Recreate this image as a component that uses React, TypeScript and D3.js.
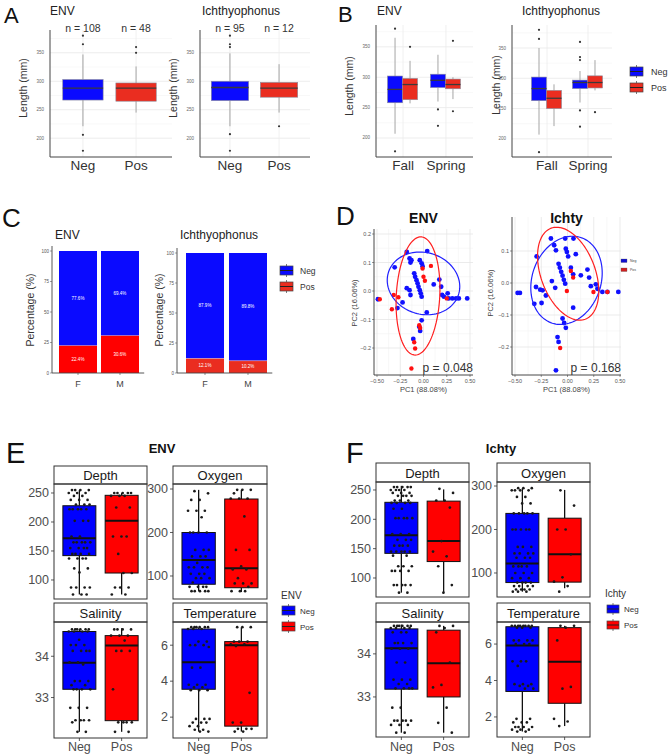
import React from 'react';
import * as d3 from 'd3';

const FONT = "'Liberation Sans', Arial, Helvetica, sans-serif";
const BLUE = '#0a0aff';
const RED_A = '#ea2d20';
const RED = '#ff0000';

// ---------------- Panel A data ----------------
const lenGroups = ['Neg', 'Pos'];
const lenTicks = [200, 250, 300, 350];
const aEnvN = ['n = 108', 'n = 48'];
const aEnvQ1 = [267, 265];
const aEnvMed = [288, 288];
const aEnvQ3 = [303, 297];
const aEnvLo = [221, 245];
const aEnvHi = [347, 326];
const aEnvOut = [[380, 365, 206, 178], [360, 350]];
const aIchN = ['n = 95', 'n = 12'];
const aIchQ1 = [266, 272];
const aIchMed = [289, 288];
const aIchQ3 = [300, 298];
const aIchLo = [221, 245];
const aIchHi = [349, 330];
const aIchOut = [[380, 365, 360, 207, 178], [221]];

// ---------------- Panel B data (Fall-Neg, Fall-Pos, Spring-Neg, Spring-Pos) ----------------
const seasons = ['Fall', 'Spring'];
const bEnvQ1 = [258, 263, 283, 281];
const bEnvMed = [280, 288, 295, 288];
const bEnvQ3 = [302, 298, 305, 297];
const bEnvLo = [207, 257, 260, 264];
const bEnvHi = [365, 327, 337, 300];
const bEnvOut = [[380, 178], [350], [247, 220], [360, 244]];
const bIchQ1 = [263, 250, 283, 284];
const bIchMed = [283, 267, 293, 293];
const bIchQ3 = [302, 280, 297, 304];
const bIchLo = [207, 221, 260, 280];
const bIchHi = [350, 290, 312, 330];
const bIchOut = [[380, 365, 178], [], [360, 335, 330, 247, 220], [244]];

// ---------------- Panel C data ----------------
const sexes = ['F', 'M'];
const pctTicks = [0, 25, 50, 75, 100];
const cEnvPos = [22.4, 30.6];
const cEnvNeg = [77.6, 69.4];
const cIchPos = [12.1, 10.2];
const cIchNeg = [87.9, 89.8];

// ---------------- Panel D data ----------------
const pcTicksX = [-0.5, -0.25, 0, 0.25, 0.5];
const dEnvNegX = [-0.49, -0.18, -0.15, -0.14, -0.31, -0.04, -0.02, -0.01, 0.04, -0.10, -0.09, -0.075, -0.064, -0.054, -0.04, -0.03, -0.02, -0.15, -0.14, -0.18, 0.11, 0.17, 0.19, 0.2, 0.22, 0.26, 0.27, 0.31, 0.35, 0.38, 0.47, -0.225, -0.28, 0.035, -0.046, -0.036, -0.11, -0.02, -0.13];
const dEnvNegY = [-0.029, 0.137, 0.114, 0.10, 0.083, 0.108, 0.097, 0.087, 0.14, 0.062, 0.05, 0.038, 0.027, 0.015, 0.003, -0.008, -0.02, 0.003, -0.014, 0.01, 0.023, 0.04, 0.015, -0.014, -0.02, -0.008, -0.026, -0.026, -0.026, -0.026, -0.026, -0.04, -0.06, -0.075, -0.125, -0.14, -0.168, -0.103, 0.108];
const dEnvPosX = [-0.47, -0.32, -0.27, -0.34, -0.01, 0.08, 0.0, 0.015, 0.25, -0.046, -0.036, -0.1, -0.09, -0.13];
const dEnvPosY = [-0.029, -0.014, -0.022, -0.064, 0.079, 0.088, 0.05, 0.036, -0.026, -0.12, -0.13, -0.18, -0.202, -0.272];
const dIchNegX = [-0.475, -0.453, -0.294, -0.3, -0.26, -0.237, -0.206, -0.316, -0.247, -0.158, -0.127, -0.11, -0.149, -0.117, -0.022, 0.057, -0.016, -0.006, 0.006, 0.079, -0.085, -0.073, -0.06, -0.047, -0.035, -0.022, 0.032, 0.054, 0.127, 0.19, 0.206, 0.222, 0.27, 0.285, 0.332, 0.38, 0.484, 0.054, -0.047, -0.032, -0.016, -0.095, -0.085, -0.11];
const dIchNegY = [-0.031, -0.031, 0.083, -0.0125, -0.021, -0.023, -0.039, -0.065, -0.0625, 0.139, 0.118, 0.102, 0.006, -0.015, 0.139, 0.139, 0.107, 0.097, 0.083, 0.09, 0.06, 0.048, 0.035, 0.023, 0.01, -0.002, 0.048, 0.027, 0.024, 0.042, 0.017, -0.01, -0.004, -0.018, -0.028, -0.028, -0.028, -0.077, -0.111, -0.125, -0.14, -0.169, -0.184, -0.273];
const dIchPosX = [0.032, 0.054, -0.006, 0.247, 0.38, -0.07];
const dIchPosY = [0.0375, 0.017, -0.025, -0.028, -0.028, -0.203];
// ellipses: centre, first and second conjugate half-axes (data units)
const dEnvNegEll = [[0, 0.0267], [0.375, -0.0407], [-0.107, -0.1023]];
const dEnvPosEll = [[-0.059, -0.0174], [0.0429, 0.207], [0.232, -0.0116]];
const dIchNegEll = [[-0.0095, 0.0083], [0.0316, 0.1375], [0.3386, 0.0104]];
const dIchPosEll = [[0.0063, 0.029], [-0.174, 0.1406], [0.234, 0.0365]];

// ---------------- Panels E / F data: box stats [q1, median, q3, lower, upper] ----------------
const eDepthStats = [[142, 172, 228, 75, 255], [112, 202, 246, 75, 250]];
const eOxyStats = [[81, 137, 200, 65, 298], [73, 118, 277, 63, 298]];
const eSalStats = [[33.2, 33.84, 34.6, 32.17, 34.65], [32.44, 34.26, 34.5, 32.17, 34.68]];
const eTempStats = [[3.55, 5.05, 6.9, 1.2, 6.95], [1.5, 6.0, 6.2, 1.2, 7.0]];
const eDepthNeg = [255, 255, 255, 255, 250, 250, 250, 245, 245, 238, 238, 238, 230, 230, 230, 222, 222, 222, 222, 222, 202, 202, 202, 175, 175, 165, 165, 165, 165, 165, 155, 155, 155, 155, 145, 145, 145, 145, 137, 137, 137, 137, 120, 120, 113, 87, 87, 87, 87, 75, 75, 75];
const eDepthPos = [250, 250, 250, 250, 250, 245, 245, 245, 225, 225, 175, 175, 175, 145, 112, 112, 87, 87, 87, 75, 75];
const eOxyNeg = [295, 290, 275, 275, 250, 250, 250, 235, 200, 200, 200, 200, 160, 160, 160, 145, 145, 145, 130, 120, 120, 120, 120, 105, 105, 105, 95, 95, 95, 85, 75, 75, 75, 75, 65, 65, 65, 65, 65];
const eOxyPos = [298, 298, 298, 290, 278, 278, 278, 237, 160, 160, 122, 115, 115, 95, 83, 83, 83, 75, 65, 65, 65];
const eSalNeg = [34.65, 34.65, 34.65, 34.65, 34.65, 34.65, 34.6, 34.6, 34.6, 34.6, 34.4, 34.27, 34.27, 34.27, 34.13, 34.13, 34.13, 34.13, 33.85, 33.85, 33.8, 33.4, 33.4, 33.4, 33.3, 33.3, 33.2, 33.2, 33.2, 33.2, 32.75, 32.75, 32.75, 32.45, 32.45, 32.45, 32.45, 32.4, 32.17, 32.17];
const eSalPos = [34.65, 34.65, 34.65, 34.65, 34.5, 34.5, 34.5, 34.38, 34.13, 34.13, 34.13, 33.2, 32.4, 32.4, 32.4, 32.4, 32.17, 32.17];
const eTempNeg = [7.0, 7.0, 7.0, 7.0, 7.0, 7.0, 6.9, 6.9, 6.9, 6.2, 6.2, 6.0, 6.0, 6.0, 5.9, 4.75, 4.75, 3.8, 3.8, 3.8, 3.65, 3.65, 3.5, 3.5, 3.5, 1.9, 1.9, 1.9, 1.7, 1.7, 1.7, 1.5, 1.5, 1.3, 1.3, 1.2, 1.2];
const eTempPos = [7.0, 7.0, 7.0, 6.2, 6.2, 6.2, 6.05, 6.05, 5.95, 3.35, 1.7, 1.7, 1.35, 1.35, 1.35, 1.2, 1.2];

const fDepthStats = [[142, 173, 229, 75, 257], [128, 163, 231, 75, 251]];
const fOxyStats = [[78, 122, 237, 57, 295], [79, 143, 226, 65, 291]];
const fSalStats = [[33.18, 34.13, 34.58, 32.17, 34.68], [33.0, 33.78, 34.55, 32.17, 34.65]];
const fTempStats = [[3.4, 5.92, 6.95, 1.2, 7.0], [2.75, 5.03, 6.9, 1.5, 7.0]];
const fDepthNeg = [255, 255, 255, 255, 255, 250, 250, 250, 250, 245, 245, 245, 240, 240, 240, 240, 232, 232, 232, 228, 228, 228, 228, 218, 218, 202, 202, 202, 202, 202, 175, 175, 175, 165, 165, 165, 155, 155, 155, 155, 145, 145, 145, 145, 145, 138, 138, 120, 120, 120, 112, 112, 112, 112, 88, 88, 88, 88, 88, 75, 75];
const fDepthPos = [252, 245, 232, 232, 220, 163, 145, 137, 120, 88, 75];
const fOxyNeg = [295, 295, 295, 290, 290, 290, 290, 275, 275, 260, 260, 237, 237, 237, 237, 237, 200, 200, 200, 200, 200, 160, 160, 160, 145, 145, 145, 145, 135, 135, 135, 115, 115, 115, 115, 100, 100, 100, 88, 88, 88, 78, 78, 78, 78, 70, 70, 70, 70, 62, 62, 62, 62, 57, 57, 57];
const fOxyPos = [290, 255, 200, 200, 143, 90, 80, 70, 57];
const fSalNeg = [34.65, 34.65, 34.65, 34.65, 34.65, 34.65, 34.6, 34.6, 34.6, 34.6, 34.5, 34.5, 34.5, 34.25, 34.25, 34.25, 34.25, 34.12, 34.12, 34.12, 33.8, 33.8, 33.4, 33.4, 33.4, 33.3, 33.3, 33.2, 33.2, 33.2, 33.2, 32.75, 32.75, 32.45, 32.45, 32.45, 32.45, 32.45, 32.35, 32.35, 32.35, 32.17, 32.17];
const fSalPos = [34.65, 34.65, 34.6, 34.5, 33.8, 33.28, 33.22, 32.75, 32.4, 32.17];
const fTempNeg = [7.0, 7.0, 7.0, 7.0, 7.0, 7.0, 7.0, 7.0, 6.9, 6.9, 6.9, 6.2, 6.2, 6.2, 6.2, 6.0, 6.0, 6.0, 5.05, 5.05, 5.05, 4.8, 3.8, 3.8, 3.8, 3.7, 3.7, 3.55, 3.55, 1.9, 1.9, 1.7, 1.7, 1.7, 1.45, 1.45, 1.45, 1.45, 1.3, 1.3, 1.3, 1.2, 1.2];
const fTempPos = [7.0, 7.0, 6.9, 6.2, 3.65, 3.55, 1.9, 1.75, 1.5];

// ---------------------------------------------------------------
function LenBox({ cx, w, y, q1, med, q3, lo, hi, out, fill }: any) {
  return (
    <g>
      <line x1={cx} x2={cx} y1={y(hi)} y2={y(q3)} stroke="#a5a5a5" strokeWidth={1} />
      <line x1={cx} x2={cx} y1={y(q1)} y2={y(lo)} stroke="#a5a5a5" strokeWidth={1} />
      <rect x={cx - w / 2} y={y(q3)} width={w} height={y(q1) - y(q3)} fill={fill} stroke="#8a8a9a" strokeWidth={0.6} />
      <line x1={cx - w / 2} x2={cx + w / 2} y1={y(med)} y2={y(med)} stroke="#3a3a3a" strokeWidth={1.3} />
      {out.map((v: number, i: number) => (
        <circle key={i} cx={cx} cy={y(v)} r={1.1} fill="#333" />
      ))}
    </g>
  );
}

function LenFrame({ x0, x1, axisEnd, y, cats, xs, title, titleX, ylabX, ylabY }: any) {
  const minor = [225, 275, 325, 375];
  const [b, t] = y.range();
  return (
    <g>
      {minor.map((v) => (
        <line key={'m' + v} x1={x0} x2={axisEnd} y1={y(v)} y2={y(v)} stroke="#f3f3f3" strokeWidth={0.6} />
      ))}
      {lenTicks.map((v) => (
        <line key={'g' + v} x1={x0} x2={axisEnd} y1={y(v)} y2={y(v)} stroke="#e8e8e8" strokeWidth={0.8} />
      ))}
      {cats.map((c: string) => (
        <line key={'v' + c} x1={xs(c)} x2={xs(c)} y1={t} y2={b} stroke="#ececec" strokeWidth={0.8} />
      ))}
      <line x1={x0} x2={x0} y1={t} y2={b} stroke="#444" strokeWidth={1} />
      <line x1={x0} x2={axisEnd} y1={b} y2={b} stroke="#444" strokeWidth={1} />
      {lenTicks.map((v) => (
        <text key={'t' + v} x={x0 - 6} y={y(v) + 1.5} fontSize={4.5} fill="#666" textAnchor="end">{v}</text>
      ))}
      {cats.map((c: string) => (
        <text key={'c' + c} x={xs(c)} y={170} fontSize={13.5} fill="#333" textAnchor="middle">{c}</text>
      ))}
      <text x={titleX} y={15} fontSize={12} fill="#222">{title}</text>
      <text transform={`translate(${ylabX},${ylabY}) rotate(-90)`} fontSize={10.5} fill="#333" textAnchor="middle">Length (mm)</text>
    </g>
  );
}

function PanelA() {
  const y = d3.scaleLinear([167, 390], [157, 30]);
  const x1 = d3.scalePoint(lenGroups, [50, 169]).padding(0.62);
  const x2 = d3.scalePoint(lenGroups, [200, 309]).padding(0.61);
  const fills = [BLUE, RED_A];
  const plot = (xs: any, q1: number[], med: number[], q3: number[], lo: number[], hi: number[], out: number[][], n: string[]) => (
    <g>
      {lenGroups.map((g, i) => (
        <g key={g}>
          <LenBox cx={xs(g)} w={xs.step() * 0.76} y={y} q1={q1[i]} med={med[i]} q3={q3[i]} lo={lo[i]} hi={hi[i]} out={out[i]} fill={fills[i]} />
          <text x={xs(g)} y={32} fontSize={10.5} fill="#333" textAnchor="middle">{n[i]}</text>
        </g>
      ))}
    </g>
  );
  return (
    <g>
      <text x={4} y={23} fontSize={22} fill="#111">A</text>
      <LenFrame x0={50} x1={169} axisEnd={172} y={y} cats={lenGroups} xs={x1} title="ENV" titleX={50} ylabX={27} ylabY={88} />
      {plot(x1, aEnvQ1, aEnvMed, aEnvQ3, aEnvLo, aEnvHi, aEnvOut, aEnvN)}
      <LenFrame x0={200} x1={309} axisEnd={310} y={y} cats={lenGroups} xs={x2} title="Ichthyophonus" titleX={202} ylabX={177} ylabY={88} />
      {plot(x2, aIchQ1, aIchMed, aIchQ3, aIchLo, aIchHi, aIchOut, aIchN)}
    </g>
  );
}

function KeyGlyph({ x, y, w, h, fill }: any) {
  return (
    <g>
      <line x1={x + w / 2} x2={x + w / 2} y1={y - 2} y2={y + h + 2} stroke="#444" strokeWidth={0.7} />
      <rect x={x} y={y} width={w} height={h} fill={fill} stroke="#444" strokeWidth={0.7} />
      <line x1={x} x2={x + w} y1={y + h / 2} y2={y + h / 2} stroke="#222" strokeWidth={1} />
    </g>
  );
}

function PanelB() {
  const y1 = d3.scaleLinear([168.7, 386], [157, 25]);
  const y2 = d3.scaleLinear([170, 388], [157, 25]);
  const xs1 = d3.scalePoint(seasons, [376, 473]).padding(0.63);
  const xs2 = d3.scalePoint(seasons, [512, 623]).padding(0.854);
  const fills = [BLUE, RED_A];
  const plot = (xs: any, y: any, q1: number[], med: number[], q3: number[], lo: number[], hi: number[], out: number[][]) => (
    <g>
      {seasons.map((s, si) =>
        lenGroups.map((g, gi) => {
          const k = si * 2 + gi;
          const cx = (xs(s) as number) - 0.5 + (gi === 0 ? -7.5 : 7.5);
          return (
            <LenBox key={s + g} cx={cx} w={15} y={y} q1={q1[k]} med={med[k]} q3={q3[k]} lo={lo[k]} hi={hi[k]} out={out[k]} fill={fills[gi]} />
          );
        })
      )}
    </g>
  );
  return (
    <g>
      <text x={338} y={22} fontSize={22} fill="#111">B</text>
      <LenFrame x0={376} x1={473} axisEnd={473} y={y1} cats={seasons} xs={xs1} title="ENV" titleX={377} ylabX={353} ylabY={86} />
      {plot(xs1, y1, bEnvQ1, bEnvMed, bEnvQ3, bEnvLo, bEnvHi, bEnvOut)}
      <LenFrame x0={512} x1={623} axisEnd={612} y={y2} cats={seasons} xs={xs2} title="Ichthyophonus" titleX={522} ylabX={500} ylabY={85} />
      {plot(xs2, y2, bIchQ1, bIchMed, bIchQ3, bIchLo, bIchHi, bIchOut)}
      {lenGroups.map((g, i) => (
        <g key={g}>
          <KeyGlyph x={630} y={67 + i * 16} w={13} h={9} fill={fills[i]} />
          <text x={651} y={75 + i * 16} fontSize={9} fill="#333">{g}</text>
        </g>
      ))}
    </g>
  );
}

function PctPlot({ axisX, range, pi, y, pos, neg, title, ylabX, posFill }: any) {
  const xb = d3.scaleBand(sexes, range).paddingInner(pi).paddingOuter(0.1);
  const [b, t] = y.range();
  return (
    <g>
      {sexes.map((s, i) => (
        <g key={s}>
          <rect x={xb(s)} width={xb.bandwidth()} y={y(100)} height={y(pos[i]) - y(100)} fill={BLUE} />
          <rect x={xb(s)} width={xb.bandwidth()} y={y(pos[i])} height={y(0) - y(pos[i])} fill={posFill} />
          <line x1={xb(s)} x2={(xb(s) as number) + xb.bandwidth()} y1={y(pos[i])} y2={y(pos[i])} stroke="#ffffff" strokeWidth={0.5} opacity={0.6} />
          <text x={(xb(s) as number) + xb.bandwidth() / 2} y={y(pos[i] + neg[i] / 2) + 1.5} fontSize={4.5} fill="#fff" textAnchor="middle">{neg[i].toFixed(1)}%</text>
          <text x={(xb(s) as number) + xb.bandwidth() / 2} y={y(pos[i] / 2) + 1.5} fontSize={4.5} fill="#fff" textAnchor="middle">{pos[i].toFixed(1)}%</text>
          <text x={(xb(s) as number) + xb.bandwidth() / 2} y={387} fontSize={9} fill="#444" textAnchor="middle">{s}</text>
          <line x1={(xb(s) as number) + xb.bandwidth() / 2} x2={(xb(s) as number) + xb.bandwidth() / 2} y1={b} y2={b + 2} stroke="#444" strokeWidth={0.6} />
        </g>
      ))}
      <line x1={axisX} x2={axisX} y1={t - 5} y2={b} stroke="#444" strokeWidth={0.9} />
      <line x1={axisX} x2={range[1] + 1} y1={b} y2={b} stroke="#444" strokeWidth={0.9} />
      {pctTicks.map((v) => (
        <g key={v}>
          <line x1={axisX - 2} x2={axisX} y1={y(v)} y2={y(v)} stroke="#444" strokeWidth={0.5} />
          <text x={axisX - 3} y={y(v) + 1.5} fontSize={4.5} fill="#555" textAnchor="end">{v}</text>
        </g>
      ))}
      <text x={axisX + 3} y={239} fontSize={12} fill="#222">{title}</text>
      <text transform={`translate(${ylabX},310) rotate(-90)`} fontSize={10.5} fill="#333" textAnchor="middle">Percentage (%)</text>
    </g>
  );
}

function PanelC() {
  return (
    <g>
      <text x={2} y={227} fontSize={26} fill="#111">C</text>
      <PctPlot axisX={52} range={[54.8, 143.2]} pi={0.095} y={d3.scaleLinear([0, 100], [373, 251])} pos={cEnvPos} neg={cEnvNeg} title="ENV" ylabX={34} posFill={RED} />
      <PctPlot axisX={177} range={[181.7, 271.3]} pi={0.116} y={d3.scaleLinear([0, 100], [373, 253])} pos={cIchPos} neg={cIchNeg} title="Ichthyophonus" ylabX={163} posFill={RED_A} />
      {lenGroups.map((g, i) => (
        <g key={g}>
          <KeyGlyph x={280} y={266 + i * 16} w={13} h={9} fill={i === 0 ? BLUE : RED_A} />
          <text x={300} y={274 + i * 16} fontSize={8.5} fill="#333">{g}</text>
        </g>
      ))}
    </g>
  );
}

function ellipsePath(e: number[][], xs: any, ys: any) {
  const ts = d3.range(0, 2 * Math.PI, Math.PI / 60);
  const pts = ts.map((t) => [
    xs(e[0][0] + e[1][0] * Math.cos(t) + e[2][0] * Math.sin(t)),
    ys(e[0][1] + e[1][1] * Math.cos(t) + e[2][1] * Math.sin(t)),
  ]);
  return d3.line().curve(d3.curveLinearClosed)(pts as any) as string;
}

function Scatter({ px0, px1, py0, py1, xs, ys, yTicks, negX, negY, posX, posY, negEll, posEll, title, p, ylabX, ylabY }: any) {
  const xMinor = [-0.375, -0.125, 0.125, 0.375];
  const yMinor = yTicks.slice(0, -1).map((v: number, i: number) => (v + yTicks[i + 1]) / 2);
  const fmt = d3.format('.2f');
  const cx = (px0 + px1) / 2;
  return (
    <g>
      {xMinor.map((v) => <line key={'xm' + v} x1={xs(v)} x2={xs(v)} y1={py0} y2={py1} stroke="#f4f4f4" strokeWidth={0.6} />)}
      {yMinor.map((v: number) => <line key={'ym' + v} x1={px0} x2={px1} y1={ys(v)} y2={ys(v)} stroke="#f4f4f4" strokeWidth={0.6} />)}
      {pcTicksX.map((v) => <line key={'xg' + v} x1={xs(v)} x2={xs(v)} y1={py0} y2={py1} stroke="#e6e6e6" strokeWidth={0.8} />)}
      {yTicks.map((v: number) => <line key={'yg' + v} x1={px0} x2={px1} y1={ys(v)} y2={ys(v)} stroke="#e6e6e6" strokeWidth={0.8} />)}
      <line x1={px0} x2={px0} y1={py0} y2={py1} stroke="#333" strokeWidth={0.9} />
      <line x1={px0} x2={px1} y1={py1} y2={py1} stroke="#333" strokeWidth={0.9} />
      {pcTicksX.map((v) => (
        <g key={'xt' + v}>
          <line x1={xs(v)} x2={xs(v)} y1={py1} y2={py1 + 2} stroke="#333" strokeWidth={0.5} />
          <text x={xs(v)} y={py1 + 8} fontSize={5.5} fill="#555" textAnchor="middle">{fmt(v)}</text>
        </g>
      ))}
      {yTicks.map((v: number) => (
        <g key={'yt' + v}>
          <line x1={px0 - 2} x2={px0} y1={ys(v)} y2={ys(v)} stroke="#333" strokeWidth={0.5} />
          <text x={px0 - 3} y={ys(v) + 2} fontSize={5.5} fill="#555" textAnchor="end">{d3.format('.1f')(v)}</text>
        </g>
      ))}
      {negX.map((v: number, i: number) => <circle key={'n' + i} cx={xs(v)} cy={ys(negY[i])} r={2.4} fill="#1010ff" />)}
      {posX.map((v: number, i: number) => <circle key={'p' + i} cx={xs(v)} cy={ys(posY[i])} r={2.2} fill="#ff1010" />)}
      <path d={ellipsePath(negEll, xs, ys)} fill="none" stroke="#2020ff" strokeWidth={1.2} />
      <path d={ellipsePath(posEll, xs, ys)} fill="none" stroke="#ff2020" strokeWidth={1.2} />
      <text x={cx} y={223} fontSize={14} fontWeight="bold" fill="#111" textAnchor="middle">{title}</text>
      <text x={px1} y={372} fontSize={12} fill="#333" textAnchor="end">{p}</text>
      <text x={cx} y={392} fontSize={7.5} fill="#444" textAnchor="middle">PC1 (88.08%)</text>
      <text transform={`translate(${ylabX},${ylabY}) rotate(-90)`} fontSize={7.5} fill="#444" textAnchor="middle">PC2 (16.06%)</text>
    </g>
  );
}

function PanelD() {
  const xs1 = d3.scaleLinear([-0.5, 0.5], [377, 470]);
  const ys1 = d3.scaleLinear([-0.2, 0.2], [348, 234]);
  const xs2 = d3.scaleLinear([-0.5, 0.5], [515, 620]);
  const ys2 = d3.scaleLinear([-0.2, 0.1], [347, 251]);
  return (
    <g>
      <text x={336} y={225} fontSize={26} fill="#111">D</text>
      <Scatter px0={374} px1={473} py0={229} py1={375} xs={xs1} ys={ys1} yTicks={[-0.2, -0.1, 0, 0.1, 0.2]}
        negX={dEnvNegX} negY={dEnvNegY} posX={dEnvPosX} posY={dEnvPosY} negEll={dEnvNegEll} posEll={dEnvPosEll}
        title="ENV" p="p = 0.048" ylabX={357} ylabY={303} />
      <Scatter px0={512} px1={621} py0={217} py1={375} xs={xs2} ys={ys2} yTicks={[-0.2, -0.1, 0, 0.1]}
        negX={dIchNegX} negY={dIchNegY} posX={dIchPosX} posY={dIchPosY} negEll={dIchNegEll} posEll={dIchPosEll}
        title="Ichty" p="p = 0.168" ylabX={493} ylabY={293} />
      {lenGroups.map((g, i) => (
        <g key={g}>
          <rect x={621} y={259 + i * 9} width={6} height={3.5} fill={i === 0 ? '#1010d0' : '#d02020'} stroke="#555" strokeWidth={0.3} />
          <text x={630} y={262 + i * 9} fontSize={3.5} fill="#444">{g}</text>
        </g>
      ))}
    </g>
  );
}

function jitter(i: number) {
  return ((i * 0.6180339887 + 0.31) % 1) - 0.5;
}

function Facet({ x0, y0, w, h, stripY, stripH, name, domain, ticks, stats, neg, pos, showX }: any) {
  const y = d3.scaleLinear(domain, [y0 + h, y0]);
  const xs = d3.scalePoint(lenGroups, [x0, x0 + w]).padding(0.6);
  const bw = xs.step() * 0.78;
  const fills = ['#0000ff', '#ff0000'];
  const pts = [neg, pos];
  return (
    <g>
      <rect x={x0} y={stripY} width={w} height={stripH} fill="#fff" stroke="#333" strokeWidth={1} />
      <text x={x0 + w / 2} y={stripY + stripH - 4.5} fontSize={13} fill="#1a1a1a" textAnchor="middle">{name}</text>
      {lenGroups.map((g, gi) => {
        const cx = xs(g) as number;
        const [q1, med, q3, lo, hi] = stats[gi];
        return (
          <g key={g}>
            <line x1={cx} x2={cx} y1={y(hi)} y2={y(q3)} stroke="#111" strokeWidth={1.3} />
            <line x1={cx} x2={cx} y1={y(q1)} y2={y(lo)} stroke="#111" strokeWidth={1.3} />
            <rect x={cx - bw / 2} y={y(q3)} width={bw} height={y(q1) - y(q3)} fill={fills[gi]} stroke="#111" strokeWidth={1} />
            <line x1={cx - bw / 2} x2={cx + bw / 2} y1={y(med)} y2={y(med)} stroke="#111" strokeWidth={2} />
            {pts[gi].map((v: number, i: number) => (
              <circle key={i} cx={cx + jitter(i) * 22} cy={y(v)} r={1.35} fill="#1a1a1a" />
            ))}
            {showX && (
              <g>
                <line x1={cx} x2={cx} y1={y0 + h} y2={y0 + h + 3} stroke="#333" strokeWidth={0.8} />
                <text x={cx} y={751} fontSize={12.5} fill="#4d4d4d" textAnchor="middle">{g}</text>
              </g>
            )}
          </g>
        );
      })}
      <rect x={x0} y={y0} width={w} height={h} fill="none" stroke="#333" strokeWidth={1} />
      {ticks.map((v: number) => (
        <g key={v}>
          <line x1={x0 - 3} x2={x0} y1={y(v)} y2={y(v)} stroke="#333" strokeWidth={0.8} />
          <text x={x0 - 5} y={y(v) + 4.3} fontSize={12.5} fill="#4d4d4d" textAnchor="end">{v}</text>
        </g>
      ))}
    </g>
  );
}

function PanelE() {
  return (
    <g>
      <text x={6} y={463} fontSize={29} fill="#111">E</text>
      <text x={162} y={453} fontSize={13} fontWeight="bold" fill="#111" textAnchor="middle">ENV</text>
      <Facet x0={54} y0={484} w={93} h={115} stripY={466} stripH={18} name="Depth" domain={[67.2, 265.5]} ticks={[100, 150, 200, 250]} stats={eDepthStats} neg={eDepthNeg} pos={eDepthPos} showX={false} />
      <Facet x0={173} y0={484} w={94} h={115} stripY={466} stripH={18} name="Oxygen" domain={[47.1, 311.5]} ticks={[100, 200, 300]} stats={eOxyStats} neg={eOxyNeg} pos={eOxyPos} showX={false} />
      <Facet x0={54} y0={622} w={93} h={116} stripY={603} stripH={19} name="Salinity" domain={[32.02, 34.83]} ticks={[33, 34]} stats={eSalStats} neg={eSalNeg} pos={eSalPos} showX={true} />
      <Facet x0={173} y0={622} w={94} h={116} stripY={603} stripH={19} name="Temperature" domain={[0.84, 7.29]} ticks={[2, 4, 6]} stats={eTempStats} neg={eTempNeg} pos={eTempPos} showX={true} />
      <text x={281} y={599} fontSize={10} fill="#333">ENV</text>
      {lenGroups.map((g, i) => (
        <g key={g}>
          <KeyGlyph x={282} y={606 + i * 16} w={13} h={9} fill={i === 0 ? '#0000ff' : '#ff0000'} />
          <text x={300} y={614 + i * 16} fontSize={8} fill="#333">{g}</text>
        </g>
      ))}
    </g>
  );
}

function PanelF() {
  return (
    <g>
      <text x={346} y={463} fontSize={29} fill="#111">F</text>
      <text x={501} y={453} fontSize={13} fontWeight="bold" fill="#111" textAnchor="middle">Ichty</text>
      <Facet x0={376} y0={482} w={93} h={115} stripY={463} stripH={19} name="Depth" domain={[67.6, 263.6]} ticks={[100, 150, 200, 250]} stats={fDepthStats} neg={fDepthNeg} pos={fDepthPos} showX={false} />
      <Facet x0={497} y0={482} w={93} h={115} stripY={463} stripH={19} name="Oxygen" domain={[44.8, 309.2]} ticks={[100, 200, 300]} stats={fOxyStats} neg={fOxyNeg} pos={fOxyPos} showX={false} />
      <Facet x0={376} y0={622} w={93} h={115} stripY={603} stripH={19} name="Salinity" domain={[32.07, 34.74]} ticks={[33, 34]} stats={fSalStats} neg={fSalNeg} pos={fSalPos} showX={true} />
      <Facet x0={497} y0={622} w={93} h={115} stripY={603} stripH={19} name="Temperature" domain={[0.9, 7.21]} ticks={[2, 4, 6]} stats={fTempStats} neg={fTempNeg} pos={fTempPos} showX={true} />
      <text x={605} y={597} fontSize={10} fill="#333">Ichty</text>
      {lenGroups.map((g, i) => (
        <g key={g}>
          <KeyGlyph x={607} y={605 + i * 16} w={12} h={8} fill={i === 0 ? '#0000ff' : '#ff0000'} />
          <text x={624} y={612 + i * 16} fontSize={8} fill="#333">{g}</text>
        </g>
      ))}
    </g>
  );
}

export default function App() {
  return (
    <svg width={669} height={755} style={{ position: 'absolute', left: 0, top: 0, background: '#fff' }} fontFamily={FONT}>
      <rect width={669} height={755} fill="#fff" />
      <PanelA />
      <PanelB />
      <PanelC />
      <PanelD />
      <PanelE />
      <PanelF />
    </svg>
  );
}
